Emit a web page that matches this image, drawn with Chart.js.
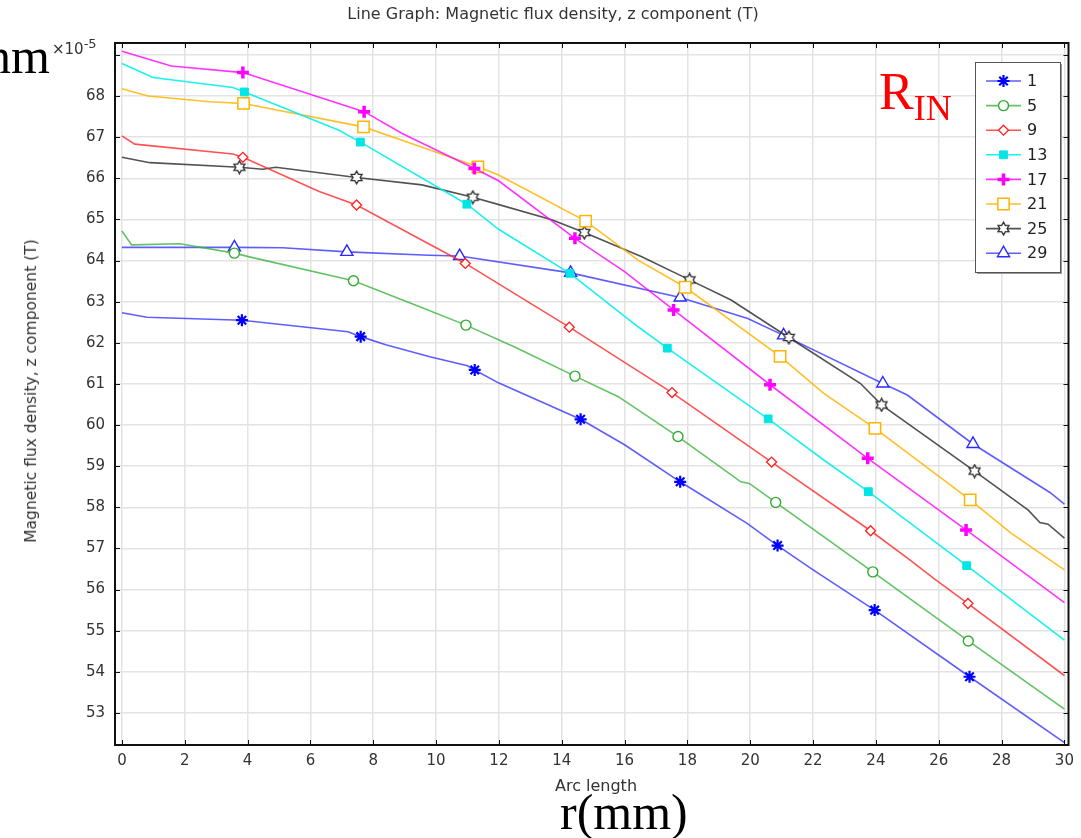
<!DOCTYPE html>
<html>
<head>
<meta charset="utf-8">
<script src="https://cdn.jsdelivr.net/npm/chart.js@4.4.1/dist/chart.umd.min.js"></script>
<style>
  html, body { margin: 0; padding: 0; background: #fff; }
  #wrap { position: relative; width: 1081px; height: 838px; overflow: hidden; }
  #c { position: absolute; left: 0; top: 0; }
  .t { position: absolute; white-space: nowrap; color: #333; font-family: "DejaVu Sans", sans-serif; }
  .serif { font-family: "Liberation Serif", "DejaVu Serif", serif; color: #000; }
</style>
</head>
<body>
<div id="wrap">
  <canvas id="c" width="1081" height="838"></canvas>
  <div class="t" style="left:553px; top:13px; font-size:16px; transform:translate(-50%,-50%);">Line Graph: Magnetic flux density, z component (T)</div>
  <div class="t" style="left:52px; top:36px; font-size:15px;">×10<sup style="font-size:13px; vertical-align:6px;">-5</sup></div>
  <div class="t" style="left:31px; top:391px; font-size:15.5px; transform:translate(-50%,-50%) rotate(-90deg);">Magnetic flux density, z component (T)</div>
  <div class="t" style="left:596px; top:785px; font-size:16px; transform:translate(-50%,-50%);">Arc length</div>
  <div class="t serif" style="left:-14px; top:26px; font-size:50px; line-height:60px;">nm</div>
  <div class="t serif" style="left:560px; top:782px; font-size:50px; line-height:60px;">r(mm)</div>
  <div class="t serif" style="left:879px; top:62px; font-size:52px; line-height:60px; color:#ff0000;">R<span style="font-size:36px; position:relative; top:11px;">IN</span></div>
</div>
<script>
// ---- data (values in units of 1e-5 T, x = arc length in mm) ----
const seriesNames = ["1", "5", "9", "13", "17", "21", "25", "29"];
const xTicks = [0, 2, 4, 6, 8, 10, 12, 14, 16, 18, 20, 22, 24, 26, 28, 30];
const yTicks = [53, 54, 55, 56, 57, 58, 59, 60, 61, 62, 63, 64, 65, 66, 67, 68, 69];

const s1_x = [0, 0.8, 3.82, 7.2, 7.6, 8.4, 9.8, 11.0, 11.23, 12.0, 14.6, 16.0, 17.77, 19.9, 20.87, 22.0, 23.96, 26.98, 30];
const s1_y = [62.73, 62.62, 62.55, 62.27, 62.15, 61.95, 61.66, 61.44, 61.34, 61.02, 60.14, 59.52, 58.62, 57.61, 57.07, 56.48, 55.50, 53.88, 52.28];
const s1_m = [2, 4, 8, 10, 12, 14, 16, 17];

const s5_x = [0, 0.31, 1.85, 3.58, 4.06, 7.37, 9.5, 10.95, 12.5, 14.42, 15.8, 17.7, 19.7, 19.97, 20.81, 23.9, 26.94, 30];
const s5_y = [64.72, 64.38, 64.41, 64.18, 64.09, 63.51, 62.87, 62.43, 61.90, 61.19, 60.69, 59.72, 58.62, 58.58, 58.12, 56.43, 54.75, 53.09];
const s5_m = [3, 5, 7, 9, 11, 14, 15, 16];

const s9_x = [0, 0.41, 3.53, 3.85, 6.28, 7.47, 10.93, 14.24, 17.51, 20.68, 23.83, 25.1, 25.84, 26.93, 30];
const s9_y = [67.03, 66.83, 66.59, 66.51, 65.68, 65.35, 63.93, 62.38, 60.79, 59.10, 57.43, 56.71, 56.27, 55.66, 53.91];
const s9_m = [3, 5, 6, 7, 8, 9, 10, 13];

const s13_x = [0, 0.99, 3.53, 3.9, 6.91, 7.59, 10.98, 11.99, 14.26, 16.43, 17.36, 19.7, 20.57, 22.34, 23.76, 26.89, 30];
const s13_y = [68.79, 68.45, 68.21, 68.10, 67.17, 66.88, 65.37, 64.76, 63.69, 62.39, 61.87, 60.61, 60.15, 59.15, 58.38, 56.58, 54.77];
const s13_m = [3, 5, 6, 8, 10, 12, 14, 15];

const s17_x = [0, 1.57, 3.85, 7.71, 8.92, 11.22, 11.99, 14.42, 16.0, 17.56, 20.63, 23.74, 26.87, 30];
const s17_y = [69.09, 68.73, 68.57, 67.62, 67.09, 66.24, 65.94, 64.54, 63.73, 62.80, 60.98, 59.19, 57.45, 55.68];
const s17_m = [2, 3, 5, 7, 9, 10, 11, 12];

const s21_x = [0, 0.83, 2.79, 3.87, 7.69, 9.19, 11.33, 11.99, 14.76, 16.43, 17.93, 20.95, 22.34, 23.97, 27.0, 28.3, 30];
const s21_y = [68.18, 68.0, 67.86, 67.82, 67.25, 66.85, 66.28, 66.08, 64.96, 64.01, 63.35, 61.67, 60.77, 59.92, 58.18, 57.37, 56.48];
const s21_m = [3, 4, 6, 8, 10, 11, 13, 14];

const s25_x = [0, 0.89, 3.74, 4.48, 4.9, 7.47, 9.55, 11.17, 12.0, 13.68, 14.72, 16.53, 18.07, 19.39, 21.23, 23.51, 24.18, 27.14, 28.85, 29.22, 29.48, 30];
const s25_y = [66.51, 66.38, 66.27, 66.22, 66.27, 66.02, 65.84, 65.54, 65.36, 64.99, 64.68, 64.10, 63.53, 63.04, 62.13, 61.01, 60.49, 58.88, 57.93, 57.63, 57.59, 57.25];
const s25_m = [2, 5, 7, 10, 12, 14, 16, 17];

const s29_x = [0, 3.58, 5.12, 7.16, 9.77, 10.75, 14.28, 17.77, 19.92, 21.06, 24.22, 25.0, 27.09, 29.54, 30];
const s29_y = [64.32, 64.32, 64.31, 64.21, 64.13, 64.11, 63.70, 63.10, 62.59, 62.18, 61.01, 60.73, 59.54, 58.36, 58.08];
const s29_m = [1, 3, 5, 6, 7, 9, 10, 12];

// ---- hexagram marker ----
function hexagram(size, color) {
  const cv = document.createElement('canvas');
  cv.width = size; cv.height = size;
  const g = cv.getContext('2d');
  const c = size / 2, R = size / 2 - 1.2, r = R / Math.sqrt(3);
  g.beginPath();
  for (let i = 0; i < 12; i++) {
    const a = -Math.PI / 2 + i * Math.PI / 6;
    const rr = (i % 2 === 0) ? R : r;
    const px = c + rr * Math.cos(a), py = c + rr * Math.sin(a);
    if (i === 0) g.moveTo(px, py); else g.lineTo(px, py);
  }
  g.closePath();
  g.fillStyle = '#fff'; g.fill();
  g.strokeStyle = color; g.lineWidth = 1.4; g.stroke();
  return cv;
}
const hexImg = hexagram(15, '#333');

const styles = [
  { line: 'rgba(40,40,255,0.75)', mk: '#0000ff', bg: '#0000ff', ps: 'star', r: 6, bw: 2.2 },
  { line: 'rgba(60,180,60,0.8)', mk: '#33aa33', bg: '#ffffff', ps: 'circle', r: 5, bw: 1.4 },
  { line: 'rgba(255,40,40,0.8)', mk: '#ff2020', bg: '#ffffff', ps: 'rectRot', r: 5, bw: 1.3 },
  { line: 'rgba(0,240,240,0.9)', mk: '#00e5e5', bg: '#00e5e5', ps: 'rect', r: 5.5, bw: 1 },
  { line: 'rgba(255,0,255,0.8)', mk: '#ff00ff', bg: '#ff00ff', ps: 'cross', r: 6, bw: 3.5 },
  { line: 'rgba(255,180,0,0.85)', mk: '#ffb400', bg: '#ffffff', ps: 'rect', r: 8, bw: 1.5 },
  { line: 'rgba(40,40,40,0.8)', mk: '#333333', bg: '#ffffff', ps: hexImg, r: 7, bw: 1.2 },
  { line: 'rgba(40,40,255,0.75)', mk: '#2a2aff', bg: '#ffffff', ps: 'triangle', r: 7, bw: 1.4 }
];

const allX = [s1_x, s5_x, s9_x, s13_x, s17_x, s21_x, s25_x, s29_x];
const allY = [s1_y, s5_y, s9_y, s13_y, s17_y, s21_y, s25_y, s29_y];
const allM = [s1_m, s5_m, s9_m, s13_m, s17_m, s21_m, s25_m, s29_m];

const datasets = seriesNames.map((name, i) => {
  const st = styles[i];
  return {
    label: name,
    data: allX[i].map((x, k) => ({ x: x, y: allY[i][k] })),
    borderColor: st.line,
    borderWidth: 1.6,
    pointStyle: st.ps,
    pointRadius: ctx => allM[i].includes(ctx.dataIndex) ? st.r : 0,
    pointHoverRadius: ctx => allM[i].includes(ctx.dataIndex) ? st.r : 0,
    pointBorderColor: st.mk,
    pointBackgroundColor: st.bg,
    pointBorderWidth: st.bw,
    tension: 0,
    fill: false
  };
});

// ---- frame with inward ticks ----
const framePlugin = {
  id: 'frame',
  afterDraw(chart) {
    const { ctx, chartArea: a, scales } = chart;
    ctx.save();
    ctx.strokeStyle = '#111';
    ctx.lineWidth = 1;
    const L = 5;
    ctx.beginPath();
    scales.x.ticks.forEach(t => {
      const px = Math.round(scales.x.getPixelForValue(t.value)) + 0.5;
      ctx.moveTo(px, a.bottom); ctx.lineTo(px, a.bottom - L);
      ctx.moveTo(px, a.top); ctx.lineTo(px, a.top + L);
    });
    scales.y.ticks.forEach(t => {
      const py = Math.round(scales.y.getPixelForValue(t.value)) + 0.5;
      ctx.moveTo(a.left, py); ctx.lineTo(a.left + L, py);
      ctx.moveTo(a.right, py); ctx.lineTo(a.right - L, py);
    });
    ctx.stroke();
    ctx.lineWidth = 2;
    ctx.strokeRect(a.left, a.top, a.right - a.left, a.bottom - a.top);
    ctx.restore();
  }
};

// ---- legend box (line + marker + label) ----
const legendPlugin = {
  id: 'boxLegend',
  afterDraw(chart) {
    const ctx = chart.ctx;
    const bx = 975, by = 62, bw = 85, bh = 210;
    ctx.save();
    ctx.fillStyle = '#9a9a9a';
    ctx.fillRect(bx + 2, by + 2, bw, bh);
    ctx.fillStyle = '#fff';
    ctx.fillRect(bx, by, bw, bh);
    ctx.strokeStyle = '#555';
    ctx.lineWidth = 1;
    ctx.strokeRect(bx + 0.5, by + 0.5, bw, bh);
    seriesNames.forEach((name, i) => {
      const st = styles[i];
      const y = by + 19 + i * 24.6;
      ctx.strokeStyle = st.line;
      ctx.lineWidth = 1.6;
      ctx.beginPath(); ctx.moveTo(986, y); ctx.lineTo(1021, y); ctx.stroke();
      ctx.strokeStyle = st.mk;
      ctx.fillStyle = st.bg;
      ctx.lineWidth = st.bw;
      Chart.helpers.drawPoint(ctx, { pointStyle: st.ps, radius: st.r, rotation: 0, borderWidth: st.bw }, 1003.5, y);
      ctx.fillStyle = '#222';
      ctx.font = '16px "DejaVu Sans"';
      ctx.textBaseline = 'middle';
      ctx.textAlign = 'left';
      ctx.fillText(name, 1027, y + 1);
    });
    ctx.restore();
  }
};

new Chart(document.getElementById('c'), {
  type: 'line',
  data: { datasets },
  plugins: [framePlugin, legendPlugin],
  options: {
    responsive: false,
    animation: false,
    devicePixelRatio: 1,
    layout: { padding: { left: 0, top: 43, right: 9, bottom: 0 } },
    plugins: { legend: { display: false }, title: { display: false }, tooltip: { enabled: false } },
    scales: {
      x: {
        type: 'linear',
        min: -0.22, max: 30.13,
        afterBuildTicks: s => { s.ticks = xTicks.map(v => ({ value: v })); },
        afterFit: s => { s.height = 93; },
        grid: { color: '#e3e3e3', drawTicks: false, lineWidth: 1.5 },
        border: { display: false },
        ticks: { padding: 7, color: '#333', font: { family: 'DejaVu Sans', size: 15 }, maxRotation: 0, autoSkip: false,
                 callback: v => String(v) }
      },
      y: {
        type: 'linear',
        min: 52.22, max: 69.29,
        afterBuildTicks: s => { s.ticks = yTicks.map(v => ({ value: v })); },
        afterFit: s => { s.width = 115; },
        grid: { color: '#e3e3e3', drawTicks: false, lineWidth: 1.5 },
        border: { display: false },
        ticks: { padding: 10, color: '#333', font: { family: 'DejaVu Sans', size: 15 }, autoSkip: false,
                 callback: v => (v === 69 ? '' : String(v)) }
      }
    }
  }
});
</script>
</body>
</html>
